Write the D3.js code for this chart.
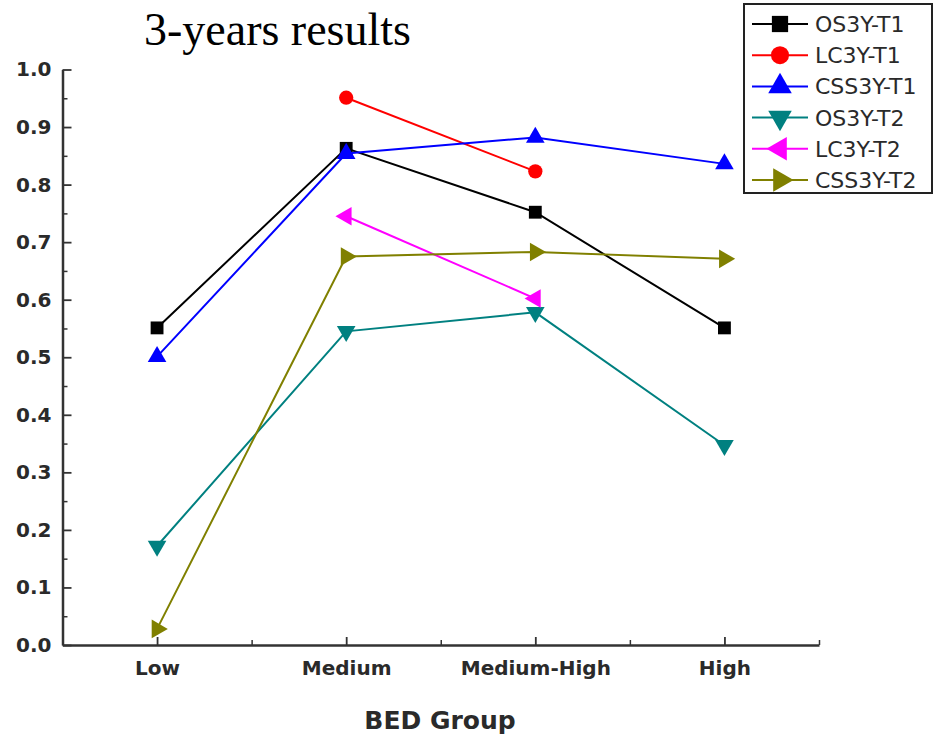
<!DOCTYPE html>
<html>
<head>
<meta charset="utf-8">
<script src="https://cdn.jsdelivr.net/npm/d3@7"></script>
<style>
  body { margin: 0; background: #fff; }
  svg { display: block; }
</style>
</head>
<body>
<svg id="chart" width="934" height="736"></svg>
<script>
const groups = ['Low', 'Medium', 'Medium-High', 'High']
const seriesNames = ['OS3Y-T1', 'LC3Y-T1', 'CSS3Y-T1', 'OS3Y-T2', 'LC3Y-T2', 'CSS3Y-T2']
const os3yT1 = [0.551, 0.863, 0.752, 0.551]
const lc3yT1 = [null, 0.951, 0.823, null]
const css3yT1 = [0.501, 0.854, 0.882, 0.836]
const os3yT2 = [0.172, 0.545, 0.578, 0.347]
const lc3yT2 = [null, 0.745, 0.602, null]
const css3yT2 = [0.028, 0.675, 0.683, 0.671]
const yTicks = [0, 0.1, 0.2, 0.3, 0.4, 0.5, 0.6, 0.7, 0.8, 0.9, 1.0]

const colors = ['#000000', '#ff0000', '#0000ff', '#008080', '#ff00ff', '#808000']
const shapes = [
  {type: d3.symbolSquare, size: 165, rot: 0},
  {type: d3.symbolCircle, size: 160, rot: 0},
  {type: d3.symbolTriangle, size: 150, rot: 0},
  {type: d3.symbolTriangle, size: 150, rot: 180},
  {type: d3.symbolTriangle, size: 150, rot: -90},
  {type: d3.symbolTriangle, size: 150, rot: 90}
]
const allValues = [os3yT1, lc3yT1, css3yT1, os3yT2, lc3yT2, css3yT2]

const svg = d3.select('#chart')

// x is a linear position: group i sits at i + 1
const x = d3.scaleLinear([0.5, 4.5], [62.5, 819])
const y = d3.scaleLinear([0, 1], [645, 69.5])

const axisColor = '#333'
const labelFont = 'DejaVu Sans, Liberation Sans, sans-serif'

// minor ticks
svg.append('g')
    .attr('transform', 'translate(62.5,0)')
    .call(d3.axisLeft(y).tickValues(d3.range(0.05, 1, 0.1)).tickSize(-5).tickFormat(''))
    .call(g => g.select('.domain').remove())
    .call(g => g.selectAll('line').attr('stroke', axisColor).attr('stroke-width', 1.5))

svg.append('g')
    .attr('transform', 'translate(0,645)')
    .call(d3.axisBottom(x).tickValues([1.5, 2.5, 3.5, 4.5]).tickSize(-5).tickFormat(''))
    .call(g => g.select('.domain').remove())
    .call(g => g.selectAll('line').attr('stroke', axisColor).attr('stroke-width', 1.5))

// major axes
svg.append('g')
    .attr('transform', 'translate(62.5,0)')
    .call(d3.axisLeft(y).tickValues(yTicks).tickSize(-9).tickSizeOuter(0).tickPadding(11).tickFormat(d3.format('.1f')))
    .call(g => g.select('.domain').attr('stroke', axisColor).attr('stroke-width', 2.5))
    .call(g => g.selectAll('line').attr('stroke', axisColor).attr('stroke-width', 1.8))
    .call(g => g.selectAll('text')
        .attr('font-family', labelFont).attr('font-weight', 'bold')
        .attr('font-size', '20px').attr('fill', '#2a2a2a'))

svg.append('g')
    .attr('transform', 'translate(0,645)')
    .call(d3.axisBottom(x).tickValues([1, 2, 3, 4]).tickSize(-8).tickSizeOuter(0).tickPadding(16)
        .tickFormat(d => groups[d - 1]))
    .call(g => g.select('.domain').attr('stroke', axisColor).attr('stroke-width', 2.5))
    .call(g => g.selectAll('line').attr('stroke', axisColor).attr('stroke-width', 1.8))
    .call(g => g.selectAll('text')
        .attr('font-family', labelFont).attr('font-weight', 'bold')
        .attr('font-size', '20px').attr('fill', '#2a2a2a'))

// axis title
svg.append('text')
    .text('BED Group')
    .attr('x', 440)
    .attr('y', 729)
    .attr('text-anchor', 'middle')
    .attr('font-family', labelFont)
    .attr('font-weight', 'bold')
    .attr('font-size', '25px')
    .attr('fill', '#2a2a2a')

// chart title
svg.append('text')
    .text('3-years results')
    .attr('x', 144)
    .attr('y', 45)
    .attr('font-family', 'Liberation Serif, Times New Roman, serif')
    .attr('font-size', '46px')
    .attr('fill', '#000')

// series
const line = d3.line()
    .defined(d => d.v != null)
    .x(d => x(d.i + 1))
    .y(d => y(d.v))

allValues.forEach(function(vals, s) {
  const pts = vals.map((v, i) => ({i: i, v: v}))
  const g = svg.append('g')
  g.append('path')
      .datum(pts)
      .attr('d', line)
      .attr('fill', 'none')
      .attr('stroke', colors[s])
      .attr('stroke-width', 2)
  g.selectAll('path.pt')
      .data(pts.filter(d => d.v != null))
      .join('path')
      .attr('class', 'pt')
      .attr('d', d3.symbol(shapes[s].type, shapes[s].size))
      .attr('transform', d => `translate(${x(d.i + 1)},${y(d.v)}) rotate(${shapes[s].rot})`)
      .attr('fill', colors[s])
})

// legend
const legend = svg.append('g')
legend.append('rect')
    .attr('x', 744)
    .attr('y', 4)
    .attr('width', 188)
    .attr('height', 189)
    .attr('fill', '#fff')
    .attr('stroke', '#222')
    .attr('stroke-width', 2)

const rows = legend.selectAll('g.row')
    .data(seriesNames)
    .join('g')
    .attr('class', 'row')
    .attr('transform', (d, i) => `translate(0,${24 + i * 31.2})`)

rows.append('line')
    .attr('x1', 752).attr('x2', 808)
    .attr('stroke', (d, i) => colors[i])
    .attr('stroke-width', 2)

rows.append('path')
    .attr('d', (d, i) => d3.symbol(shapes[i].type, shapes[i].size * 1.6)())
    .attr('transform', (d, i) => `translate(780,0) rotate(${shapes[i].rot})`)
    .attr('fill', (d, i) => colors[i])

rows.append('text')
    .text(d => d)
    .attr('x', 815)
    .attr('dy', '0.36em')
    .attr('font-family', labelFont)
    .attr('font-size', '22px')
    .attr('fill', '#2a2a2a')
</script>
</body>
</html>
